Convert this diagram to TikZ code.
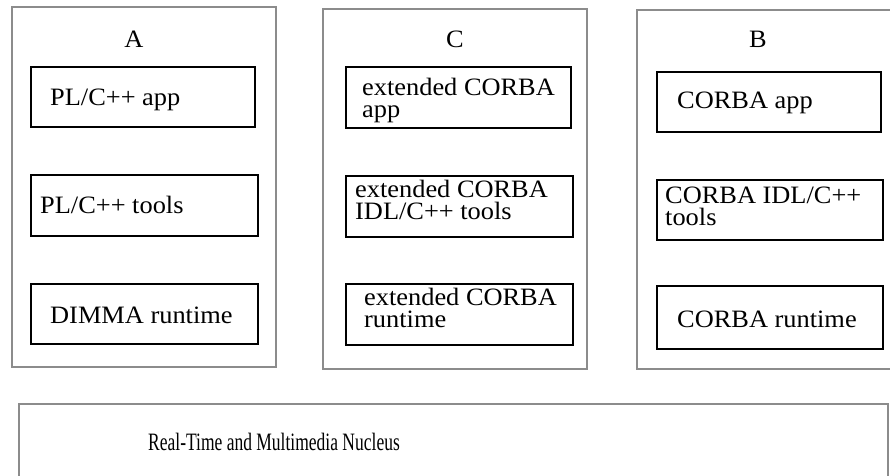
\documentclass[tikz,border=0pt]{standalone}
\usepackage{fontspec}
\setmainfont{Liberation Serif}[FakeStretch=1.055]
\newfontfamily\condfont{Liberation Serif}[FakeStretch=0.70]
\usetikzlibrary{fit}
\newcommand{\firststrut}{\rule{0pt}{17.5pt}}
\tikzset{
  outerbox/.style={draw=black!45, line width=1.6pt, inner sep=0pt},
  innerbox/.style={draw=black, line width=1.7pt, inner sep=0pt},
  txt/.style={anchor=base west, inner sep=0pt, font=\fontsize{25}{29}\selectfont},
  twoline/.style={anchor=north west, inner sep=0pt, align=left, font=\fontsize{25}{22}\selectfont},
  ttl/.style={anchor=base, inner sep=0pt, font=\fontsize{25}{29}\selectfont},
  btxt/.style={anchor=base west, inner sep=0pt, font=\fontsize{25}{29}\selectfont\condfont}
}
\begin{document}
\begin{tikzpicture}[x=1pt,y=-1pt]
\useasboundingbox (0,0) rectangle (890,475);
\clip (0,0) rectangle (890,475);
% outer frames
\node[outerbox, fit={(12,7) (276,367)}] (A) {};
\node[outerbox, fit={(323,9) (587,369)}] (C) {};
\node[outerbox, fit={(637,10) (895,369)}] (B) {};
\node[outerbox, fit={(19,404) (888,485)}] (N) {};
% titles
\node[ttl] (tA) at (134,47) {A};
\node[ttl] (tC) at (455,47) {C};
\node[ttl] (tB) at (758,47) {B};
% column A
\node[innerbox, fit={(31,67) (255,127)}] (a1) {};
\node[innerbox, fit={(31,175) (258,236)}] (a2) {};
\node[innerbox, fit={(31,284) (258,344)}] (a3) {};
\node[txt] (a1t) at (50,105) {PL/C++ app};
\node[txt] (a2t) at (40,213) {PL/C++ tools};
\node[txt] (a3t) at (50,323) {DIMMA runtime};
% column C
\node[innerbox, fit={(346,67) (571,128)}] (c1) {};
\node[innerbox, fit={(346,176) (573,237)}] (c2) {};
\node[innerbox, fit={(346,284) (573,345)}] (c3) {};
\node[twoline] (c1t) at (362,77.5) {\firststrut extended CORBA\\app};
\node[twoline] (c2t) at (355,180) {\firststrut extended CORBA\\IDL/C++ tools};
\node[twoline] (c3t) at (364,288) {\firststrut extended CORBA\\runtime};
% column B
\node[innerbox, fit={(657,72) (881,132)}] (b1) {};
\node[innerbox, fit={(657,180) (883,240)}] (b2) {};
\node[innerbox, fit={(657,286) (883,349)}] (b3) {};
\node[txt] (b1t) at (677,108) {CORBA app};
\node[twoline] (b2t) at (665,185.5) {\firststrut CORBA IDL/C++\\tools};
\node[txt] (b3t) at (677,327) {CORBA runtime};
% nucleus
\node[btxt] (nt) at (148,450) {Real-Time and Multimedia Nucleus};
\end{tikzpicture}
\end{document}
